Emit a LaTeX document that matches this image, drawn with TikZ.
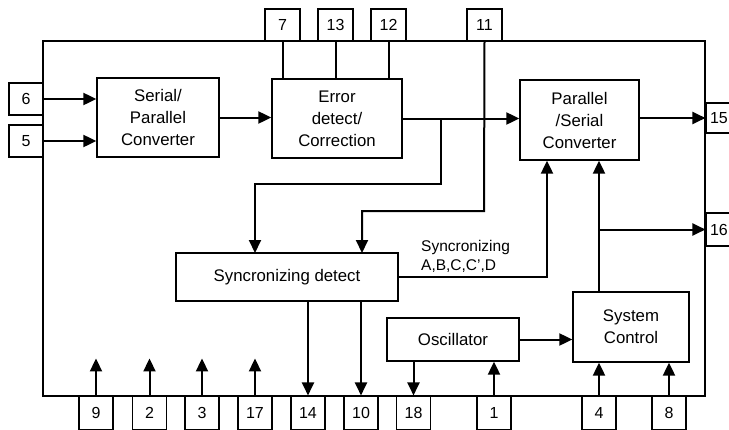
\documentclass[tikz,border=0pt]{standalone}
\usepackage{fontspec}
\setmainfont{Liberation Sans}
\usetikzlibrary{arrows.meta}
\begin{document}
\begin{tikzpicture}[x=1pt,y=-1pt,
  blk/.style={draw,line width=1.3pt,inner sep=0pt,align=center,font=\fontsize{16.8}{22}\selectfont},
  pin/.style={draw,line width=1.1pt,inner sep=0pt,minimum width=34pt,font=\fontsize{16}{18}\selectfont},
  arr/.style={line width=2pt,-{Triangle[length=13pt,width=12pt]}},
  ln/.style={line width=2pt}]
\clip (0,0) rectangle (729,429);
\fill[white] (0,0) rectangle (729,429);
% pins
\node[pin,minimum height=32pt] (p6) at (26,99) {6};
\node[pin,minimum height=32pt] (p5) at (26,141) {5};
\node[pin,minimum height=32pt,minimum width=35pt] (p7) at (282.5,25) {7};
\node[pin,minimum height=32pt,minimum width=35pt] (p13) at (335.5,25) {13};
\node[pin,minimum height=32pt,minimum width=35pt] (p12) at (388.5,25) {12};
\node[pin,minimum height=32pt,minimum width=35pt] (p11) at (484.5,25) {11};
\node[pin,minimum height=30pt,text width=26pt,align=left] (p15) at (723,118) {15};
\node[pin,minimum height=33pt,text width=26pt,align=left] (p16) at (723,229.5) {16};
\foreach \n/\x in {9/96,2/149.5,3/202,17/255,14/308,10/361,18/413.5,1/494,4/599,8/669}
  \node[pin,minimum height=34pt] (p\n) at (\x,413) {\n};
% frame
\draw[line width=2pt] (43,41) rectangle (705,396);
% blocks
\node[blk,minimum width=122pt,minimum height=79pt] (sp) at (158,117.5) {Serial/\\Parallel\\Converter};
\node[blk,minimum width=130pt,minimum height=79pt] (ed) at (337,118.5) {Error\\detect/\\Correction};
\node[blk,minimum width=119pt,minimum height=80pt] (ps) at (579.5,120) {Parallel\\/Serial\\Converter};
\node[blk,minimum width=222pt,minimum height=48pt] (sd) at (287,277) {Syncronizing detect};
\node[blk,minimum width=132pt,minimum height=43pt] (osc) at (453,339.5) {Oscillator};
\node[blk,minimum width=116pt,minimum height=70pt] (sc) at (631,327) {System\\Control};
% label
\node[anchor=south west,align=left,inner sep=1pt,font=\fontsize{15.5}{19}\selectfont] (lab) at (420,274) {Syncronizing\\A,B,C,C',D};
% connectors
\draw[arr] (p6.east) -- (p6.east -| sp.west);
\draw[arr] (p5.east) -- (p5.east -| sp.west);
\draw[arr] (sp.east) -- (sp.east -| ed.west);
\draw[ln] (p7.south) -- (p7.south |- ed.north);
\draw[ln] (p13.south) -- (p13.south |- ed.north);
\draw[ln] (p12.south) -- (p12.south |- ed.north);
\draw[arr] (ed.east) -- (ed.east -| ps.west);
\coordinate (b1) at (441,118.5);
\draw[arr] (b1) -- (441,184) -- (255,184) -- (255,253);
\draw[arr] (p11.south) -- (484,211) -- (362,211) -- (362,253);
\draw[arr] (sd.east) -- (547,277) -- (ps.south -| 547,0);
\draw[arr] (sd.south -| p14.north) -- (p14.north);
\draw[arr] (sd.south -| p10.north) -- (p10.north);
\draw[arr] (osc.east) -- (osc.east -| sc.west);
\draw[arr] (osc.south -| p18.north) -- (p18.north);
\draw[arr] (p1.north) -- (p1.north |- osc.south);
\draw[arr] (p4.north) -- (p4.north |- sc.south);
\draw[arr] (p8.north) -- (p8.north |- sc.south);
\draw[arr] (sc.north -| p4.north) -- (ps.south -| p4.north);
\draw[arr] (p16.west -| p4.north) -- (p16.west);
\draw[arr] (ps.east |- p15.west) -- (p15.west);
\foreach \n in {9,2,3,17}
  \draw[arr] (p\n.north) -- ++(0,-37);
\end{tikzpicture}
\end{document}
